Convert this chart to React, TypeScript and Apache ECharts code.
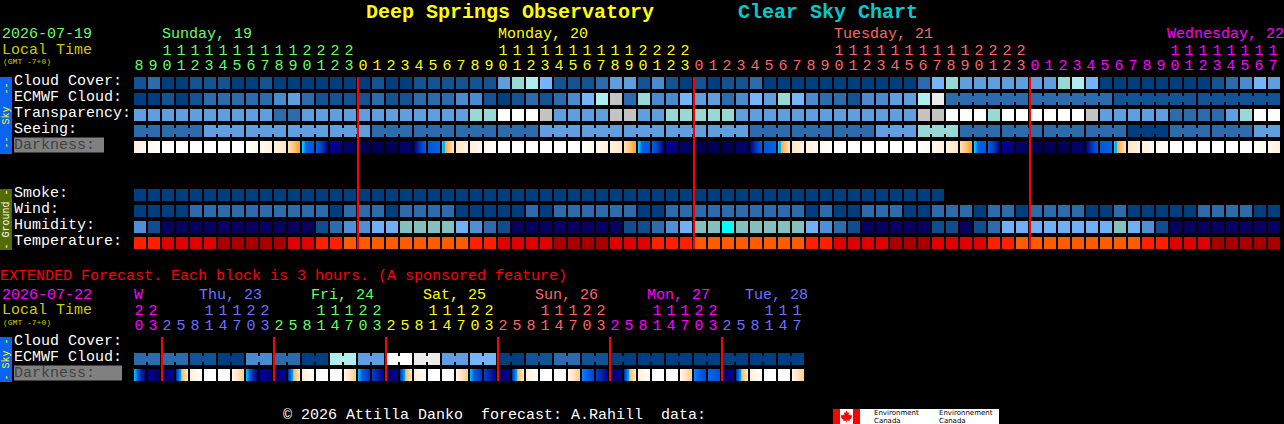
import React, { useEffect, useRef } from "react";
import * as echarts from "echarts";

const MONO = '"Liberation Mono", "DejaVu Sans Mono", monospace';

// Cloud-style scale, darkest (clear) to white (overcast)
const cloudPalette = ["#003f7f", "#135393", "#2c6cac", "#4a8ace", "#5f9fe0", "#76b5fa", "#99d9d5", "#aeeeee", "#ebebeb", "#c4c4c4", "#ffffff"];
const humidityPalette = ["#08005f", "#0f4d8f", "#2c6cac", "#4f8fd5", "#72b0f5", "#84c0be", "#00ffff"];
const temperaturePalette = ["#a80000", "#e00000", "#ff2000", "#ff5c00"];

const darknessStops: Record<string, [number, string][]> = {
  w: [[0, "#ffffff"], [1, "#ffffff"]],
  rC: [[0, "#fff8f0"], [1, "#ffffff"]],
  rB: [[0, "#fff0dc"], [1, "#fff8f0"]],
  rA: [[0, "#ffe6c4"], [1, "#fff2e0"]],
  sC: [[0, "#ffffff"], [1, "#fff8f0"]],
  sB: [[0, "#fff8f0"], [1, "#fff0dc"]],
  sA: [[0, "#fff2e0"], [1, "#ffe6c4"]],
  s3: [[0, "#ffe4c0"], [1, "#ffa020"]],
  r3: [[0, "#00d8ff"], [0.2, "#00a0ff"], [0.25, "#ffa830"], [1, "#ffe4c0"]],
  s4: [[0, "#00d8ff"], [0.2, "#00a0ff"], [0.25, "#0064e4"], [1, "#0058d8"]],
  r4: [[0, "#0058d8"], [1, "#0064e4"]],
  s5: [[0, "#0060e0"], [0.45, "#0040c0"], [0.75, "#0020a0"], [1, "#000078"]],
  r5: [[0, "#000078"], [0.3, "#0020a0"], [0.6, "#0040c0"], [1, "#0060e0"]],
  n1: [[0, "#000090"], [1, "#000080"]],
  n2: [[0, "#000068"], [1, "#000068"]],
  n3: [[0, "#000050"], [1, "#000050"]],
  e1: [[0, "#00c8ff"], [0.3, "#0060e0"], [0.65, "#0020a0"], [1, "#000070"]],
  e2: [[0, "#00c0ff"], [0.35, "#0060e0"], [1, "#0030b8"]],
  e3: [[0, "#0088ff"], [0.4, "#0060e8"], [1, "#0048d0"]],
  m1: [[0, "#000090"], [1, "#000060"]],
  m2: [[0, "#0000a0"], [1, "#000078"]],
  m3: [[0, "#0040c8"], [1, "#000090"]],
  m4: [[0, "#0068f0"], [1, "#0050e0"]],
  d1: [[0, "#000060"], [1, "#000098"]],
  t: [[0, "#0030b0"], [0.4, "#00a8ff"], [0.48, "#ffb860"], [1, "#ffeec8"]],
  u: [[0, "#fff0d8"], [1, "#ffffff"]],
  v: [[0, "#fff8f0"], [1, "#ffcc88"]],
};

// Main chart: one block per hour
const mainHours = [8, 9, 10, 11, 12, 13, 14, 15, 16, 17, 18, 19, 20, 21, 22, 23,
  0, 1, 2, 3, 4, 5, 6, 7, 8, 9, 10, 11, 12, 13, 14, 15, 16, 17, 18, 19, 20, 21, 22, 23,
  0, 1, 2, 3, 4, 5, 6, 7, 8, 9, 10, 11, 12, 13, 14, 15, 16, 17, 18, 19, 20, 21, 22, 23,
  0, 1, 2, 3, 4, 5, 6, 7, 8, 9, 10, 11, 12, 13, 14, 15, 16, 17];
const mainDayColors = ["#66ff66", "#ffff00", "#ff6666", "#ff00ff"];
const mainDayNames = ["Sunday, 19", "Monday, 20", "Tuesday, 21", "Wednesday, 22"];
const mainRows = ["Cloud Cover:", "ECMWF Cloud:", "Transparency:", "Seeing:", "Darkness:", "", "", "Smoke:", "Wind:", "Humidity:", "Temperature:"];

const cloudCover = [1, 2, 0, 0, 1, 1, 1, 0, 0, 1, 0, 0, 0, 0, 0, 0, 0, 1, 0, 0, 1,
  1, 1, 1, 1, 1, 4, 6, 7, 5, 1, 1, 1, 2, 4, 4, 1, 3, 1, 0,
  1, 0, 1, 1, 2, 0, 0, 0, 0, 0, 0, 0,
  0, 0, 0, 0, 2, 5, 6, 4, 4, 4, 4, 4, 4, 4, 6, 7, 5,
  0, 0, 0, 0, 0, 0, 0, 0, 1, 2, 3, 5, 4];
const ecmwfCloud = [0, 0, 1, 0, 1, 2, 2, 2, 2, 2, 3, 4, 2, 1, 1, 1, 1, 2, 1, 1, 2,
  2, 2, 3, 3, 1, 0, 1, 2, 1, 2, 3, 5, 7, 9, 2, 6, 3, 3, 5, 4, 4, 2, 3, 5, 4, 6, 5, 3, 2, 2, 1,
  3, 3, 4, 4, 7, 8,
  2, 2, 2, 2, 2, 2, 2, 2, 2, 2, 2, 2, 1, 1, 1, 1, 1, 1, 1, 1, 1, 1, 1, 1];
const ecmwfGroups = [1, 1, 1, 1, 1, 1, 1, 1, 1, 1, 1, 1, 1, 1, 1, 1, 1, 1, 1, 1, 1, 1, 1, 1, 1, 1, 1, 1, 1,
  1, 1, 1, 1, 1, 1, 1, 1, 1, 1, 1, 1, 1, 1, 1, 1, 1, 1, 1, 1, 1, 1, 1, 1, 1, 1, 1, 1, 1, 6, 6, 6, 6];
const transparency = [4, 4, 4, 4, 4, 4, 4, 4, 4, 4, 2, 2, 4, 4, 4, 4, 4, 4, 4, 4, 4, 4, 4, 4,
  6, 6, 10, 10, 10, 9, 4, 4, 4, 4, 9, 9, 4, 4, 6, 6, 6, 6, 6,
  4, 4, 4, 4, 4, 4, 4, 4, 4, 4, 4, 4, 4, 9, 9, 10, 10, 10, 6,
  10, 10, 10, 10, 10, 10, 9, 4, 4, 4, 4, 4, 2, 2, 2, 2, 4, 6, 10, 10];
const seeing = [2, 2, 2, 2, 2, 4, 4, 4, 4, 4, 4, 4, 4, 4, 4, 4, 4,
  2, 2, 2, 2, 2, 2, 2, 2, 2, 2, 2, 2,
  4, 4, 4, 4, 4, 4, 4, 4, 4, 4, 4, 4, 4, 4, 4,
  2, 2, 2, 2, 2, 2, 2, 2, 2, 4, 4, 4, 6, 6, 6,
  2, 2, 2, 2, 2, 2, 2, 2, 2, 2, 2, 2, 0, 0, 0, 2, 2, 2, 2, 2, 2, 4, 4];
const seeingGroups = [2, 3, 3, 3, 3, 3, 3, 3, 3, 3, 3, 3, 3, 3, 3, 3, 3, 3, 3, 3, 3, 3, 3, 3, 3, 3, 3, 2];
const darkness = ["rB", "rC", "w", "w", "w", "w", "w", "w", "sC", "sB", "sA", "s3", "s4", "s5", "n1", "n2", "n3", "n3", "n3", "n2", "r5", "r4", "r3", "rA",
  "rB", "rC", "w", "w", "w", "w", "w", "w", "sC", "sB", "sA", "s3", "s4", "s5", "n1", "n2", "n3", "n3", "n3", "n2", "r5", "r4", "r3", "rA",
  "rB", "rC", "w", "w", "w", "w", "w", "w", "sC", "sB", "sA", "s3", "s4", "s5", "n1", "n2", "n3", "n3", "n3", "n2", "r5", "r4", "r3", "rA",
  "rB", "rC", "w", "w", "w", "w", "w", "w", "sC", "sB"];
const smoke = [0, 0, 0, 0, 0, 0, 0, 0, 0, 0, 0, 0, 0, 0, 0, 0, 0, 0, 0, 0, 0, 0, 0, 0, 0, 0, 0, 0, 0,
  0, 0, 0, 0, 0, 0, 0, 0, 0, 0, 0, 0, 0, 0, 0, 0, 0, 0, 0, 0, 0, 0, 0, 0, 0, 0, 0, 0, 0];
const wind = [0, 0, 0, 0, 2, 2, 2, 2, 2, 2, 2, 2, 2, 2, 0, 2, 2, 2, 0, 2, 2,
  2, 2, 0, 0, 0, 0, 0, 2, 0, 2, 2, 2, 2, 2, 2, 0, 0, 2, 2, 2, 2, 2, 2, 2, 2, 2, 2, 0, 2, 0, 0,
  2, 2, 2, 0, 0, 2, 2, 2, 0, 2, 2, 0, 2, 2, 2, 2, 0, 0, 2, 0, 0, 0, 0, 0, 2, 2, 2, 2, 0, 0];
const humidity = [3, 1, 0, 0, 0, 0, 0, 0, 0, 0, 0, 0, 0, 1, 2, 3, 3, 4, 4, 5, 5,
  5, 5, 4, 3, 2, 1, 0, 0, 0, 0, 0, 0, 0, 0, 1, 1, 2, 3, 4, 5, 5, 6, 5, 5, 5, 5, 5, 4, 3, 2, 1,
  0, 0, 0, 0, 0, 1, 1, 0, 1, 2, 4, 4, 4, 4, 4, 4, 4, 4, 5, 4, 3, 1, 0, 0, 0, 0, 0, 0, 0, 0];
const temperature = [2, 2, 1, 1, 1, 1, 0, 0, 0, 0, 0, 1, 1, 2, 2, 3, 3, 3, 3, 3, 3,
  3, 3, 3, 2, 2, 1, 1, 1, 1, 0, 0, 0, 0, 1, 1, 1, 2, 2, 2, 3, 3, 3, 3, 3, 3, 3, 3, 2, 2, 1, 1,
  1, 1, 0, 0, 0, 1, 1, 1, 1, 2, 2, 3, 3, 3, 3, 3, 3, 3, 3, 3, 2, 2, 1, 1, 1, 0, 0, 0, 0, 0];

// Extended chart: one block per 3 hours
const extHours = [20, 23,
  2, 5, 8, 11, 14, 17, 20, 23, 2, 5, 8, 11, 14, 17, 20, 23, 2, 5, 8, 11, 14, 17, 20, 23,
  2, 5, 8, 11, 14, 17, 20, 23, 2, 5, 8, 11, 14, 17, 20, 23, 2, 5, 8, 11, 14, 17];
const extDayColors = ["#ff00ff", "#7070ff", "#66ff66", "#ffff00", "#ff6666", "#ff00ff", "#7070ff"];
const extDayNames = ["W", "Thu, 23", "Fri, 24", "Sat, 25", "Sun, 26", "Mon, 27", "Tue, 28"];
const extRows = ["Cloud Cover:", "ECMWF Cloud:", "Darkness:"];
const extEcmwf = [2, 2, 2, 2, 1, 1, 0, 0, 3, 3, 2, 2, 0, 0, 7, 7, 4, 4, 10, 10, 8, 8, 4, 4,
  5, 5, 0, 0, 1, 1, 2, 2, 1, 1, 0, 0, 0, 0, 0, 0, 0, 0, 0, 0, 0, 0, 0, 0];
const extEcmwfGroups = [2, 2, 2, 2, 2, 2, 2, 2, 2, 2, 2, 2, 2, 2, 2, 2, 2, 2, 2, 2, 2, 2, 2, 2];
const extDarkness = ["e1", "m1", "d1", "t", "u", "w", "w", "v",
  "e1", "m2", "d1", "t", "u", "w", "w", "v",
  "e2", "m3", "d1", "t", "u", "w", "w", "v",
  "e2", "m3", "d1", "t", "u", "w", "w", "v",
  "e3", "m3", "d1", "t", "u", "w", "w", "v",
  "e3", "m4", "d1", "t", "u", "w", "w", "v"];

const BLOCK = 12;
const NECK_H = 6;

function dayColorAt(hours: number[], colors: string[], col: number) {
  let day = 0;
  for (let i = 1; i <= col; i++) if (hours[i] < hours[i - 1]) day++;
  return colors[day];
}

function joinsNext(groups: number[] | null) {
  const out: boolean[] = [];
  (groups || []).forEach((n) => {
    for (let k = 0; k < n; k++) out.push(k < n - 1);
  });
  return out;
}

function blockSeries(gridIndex: number, row: number, values: any[], fillOf: (v: any) => any, groups: number[] | null) {
  const joins = joinsNext(groups);
  return {
    type: "custom",
    coordinateSystem: "cartesian2d",
    xAxisIndex: gridIndex,
    yAxisIndex: gridIndex,
    silent: true,
    clip: false,
    data: values.map((_, i) => [i, row]),
    encode: { x: 0, y: 1 },
    renderItem(params: any, api: any) {
      const i = api.value(0);
      const c = api.coord([i, api.value(1)]);
      const fill = fillOf(values[params.dataIndex]);
      const left = c[0] - BLOCK / 2;
      const top = c[1] - BLOCK / 2;
      const children: any[] = [
        { type: "rect", shape: { x: left, y: top, width: BLOCK, height: BLOCK }, style: { fill } },
      ];
      if (joins[params.dataIndex]) {
        children.push({
          type: "rect",
          shape: { x: left + BLOCK - 0.5, y: c[1] - NECK_H / 2, width: 3, height: NECK_H },
          style: { fill },
        });
      }
      return { type: "group", children };
    },
  };
}

function dayLineSeries(gridIndex: number, hours: number[], lastRow: number) {
  const cols = hours.map((h, i) => (i > 0 && h < hours[i - 1] ? i : -1)).filter((i) => i >= 0);
  return {
    type: "custom",
    coordinateSystem: "cartesian2d",
    xAxisIndex: gridIndex,
    yAxisIndex: gridIndex,
    silent: true,
    clip: false,
    z: 5,
    data: cols.map((c) => [c, 0]),
    encode: { x: 0, y: 1 },
    renderItem(_: any, api: any) {
      const a = api.coord([api.value(0), 0]);
      const b = api.coord([api.value(0), lastRow]);
      const s = api.size([1, 1]);
      return {
        type: "rect",
        shape: { x: a[0] - s[0] / 2, y: a[1] - BLOCK / 2, width: 2, height: b[1] - a[1] + BLOCK },
        style: { fill: "#ff0000" },
      };
    },
  };
}

const cloudFill = (v: number) => cloudPalette[v];
const humidityFill = (v: number) => humidityPalette[v];
const tempFill = (v: number) => temperaturePalette[v];
const darkFill = (code: string) =>
  new echarts.graphic.LinearGradient(0, 0, 1, 0, darknessStops[code].map(([offset, color]) => ({ offset, color })));

function xAxisFor(gridIndex: number, hours: number[], colors: string[]) {
  return {
    type: "category",
    gridIndex,
    position: "top",
    data: hours.map(String),
    axisLine: { show: false },
    axisTick: { show: false },
    splitLine: { show: false },
    axisLabel: {
      interval: 0,
      margin: 1,
      padding: [0, 2, 0, 0],
      fontFamily: MONO,
      fontSize: 15,
      lineHeight: 15,
      hideOverlap: false,
      formatter: (v: string) => (v.length > 1 ? `${v[0]}\n${v[1]}` : v),
      color: (_: any, i: number) => dayColorAt(hours, colors, i),
    },
  };
}

function yAxisFor(gridIndex: number, rows: string[], margin: number, darkWidth: number) {
  return {
    type: "category",
    gridIndex,
    inverse: true,
    data: rows,
    axisLine: { show: false },
    axisTick: { show: false },
    splitLine: { show: false },
    axisLabel: {
      interval: 0,
      margin,
      align: "left",
      color: "#ffffff",
      fontFamily: MONO,
      fontSize: 15,
      padding: [0, 0, 4, 0],
      formatter: (v: string) => (v === "Darkness:" ? `{d|${v}}` : v),
      rich: {
        d: {
          color: "#404040",
          backgroundColor: "#808080",
          fontFamily: MONO,
          fontSize: 15,
          width: darkWidth,
          height: 15,
          lineHeight: 15,
        },
      },
    },
  };
}

function label(text: string, x: number, y: number, fill: string, size = 15, weight = "normal", align = "left") {
  return {
    type: "text",
    x,
    y,
    silent: true,
    style: { text, fill, font: `${weight} ${size}px ${MONO}`, align, verticalAlign: "middle" },
  };
}

function logoText(text: string, x: number, y: number) {
  return {
    type: "text",
    x,
    y,
    silent: true,
    style: { text, fill: "#000000", font: '7px "DejaVu Sans"', verticalAlign: "middle" },
  };
}

function sideBar(x: number, y: number, h: number, color: string, text: string, textColor: string) {
  return [
    { type: "rect", shape: { x, y, width: 12, height: h }, style: { fill: color }, silent: true },
    {
      type: "text",
      x: x + 6,
      y: y + h / 2,
      rotation: Math.PI / 2,
      silent: true,
      style: { text, fill: textColor, font: `10px ${MONO}`, align: "center", verticalAlign: "middle" },
    },
  ];
}

const leafPoints = [
  [846.5, 410.5], [845.2, 413], [843.8, 412.2], [844.5, 415.5], [843, 414.2], [842.6, 415.4], [840.8, 415], [841.4, 417.2],
  [840.6, 417.6], [843.6, 420], [843.2, 421], [846.2, 420.6], [846.2, 422.6], [846.8, 422.6], [846.8, 420.6], [849.8, 421],
  [849.4, 420], [852.4, 417.6], [851.6, 417.2], [852.2, 415], [850.4, 415.4], [850, 414.2], [848.5, 415.5], [849.2, 412.2],
  [847.8, 413],
];

export default function App() {
  const ref = useRef<HTMLDivElement>(null);
  useEffect(() => {
    document.body.style.margin = "0";
    document.body.style.background = "#000";
    const chart = echarts.init(ref.current!, null, { renderer: "svg" });
    chart.setOption({
      animation: false,
      backgroundColor: "#000000",
      grid: [
        { left: 133, top: 75, width: 1148, height: 176, containLabel: false },
        { left: 133, top: 335, width: 672, height: 48, containLabel: false },
      ],
      xAxis: [xAxisFor(0, mainHours, mainDayColors), xAxisFor(1, extHours, extDayColors)],
      yAxis: [yAxisFor(0, mainRows, 119, 90), yAxisFor(1, extRows, 119, 108)],
      series: [
        blockSeries(0, 0, cloudCover, cloudFill, null),
        blockSeries(0, 1, ecmwfCloud, cloudFill, ecmwfGroups),
        blockSeries(0, 2, transparency, cloudFill, null),
        blockSeries(0, 3, seeing, cloudFill, seeingGroups),
        blockSeries(0, 4, darkness, darkFill, null),
        blockSeries(0, 7, smoke, cloudFill, null),
        blockSeries(0, 8, wind, cloudFill, null),
        blockSeries(0, 9, humidity, humidityFill, null),
        blockSeries(0, 10, temperature, tempFill, null),
        dayLineSeries(0, mainHours, 10),
        blockSeries(1, 1, extEcmwf, cloudFill, extEcmwfGroups),
        blockSeries(1, 2, extDarkness, darkFill, null),
        dayLineSeries(1, extHours, 2),
      ],
      graphic: [
        label("Deep Springs Observatory", 366, 12, "#ffff00", 20, "bold"),
        label("Clear Sky Chart", 738, 12, "#00cccc", 20, "bold"),
        label("2026-07-19", 2, 34, "#66ff66"),
        label("Local Time", 2, 50, "#cccc00"),
        label("(GMT -7+0)", 3, 61, "#cccc00", 8),
        label(mainDayNames[0], 162, 34, mainDayColors[0]),
        label(mainDayNames[1], 498, 34, mainDayColors[1]),
        label(mainDayNames[2], 834, 34, mainDayColors[2]),
        label(mainDayNames[3], 1167, 34, mainDayColors[3]),
        ...sideBar(0, 77, 77, "#0a64f0", "--  Sky  --", "#ffff00"),
        ...sideBar(0, 189, 61, "#556b00", "- Ground -", "#ffffff"),
        label("EXTENDED Forecast. Each block is 3 hours. (A sponsored feature)", 0, 276, "#ff0000"),
        label("2026-07-22", 2, 295, "#ff00ff"),
        label("Local Time", 2, 310, "#cccc00"),
        label("(GMT -7+0)", 3, 322, "#cccc00", 8),
        label(extDayNames[0], 134, 295, extDayColors[0]),
        label(extDayNames[1], 199, 295, extDayColors[1]),
        label(extDayNames[2], 311, 295, extDayColors[2]),
        label(extDayNames[3], 423, 295, extDayColors[3]),
        label(extDayNames[4], 535, 295, extDayColors[4]),
        label(extDayNames[5], 647, 295, extDayColors[5]),
        label(extDayNames[6], 745, 295, extDayColors[6]),
        ...sideBar(0, 337, 45, "#0a64f0", "- Sky -", "#ffff00"),
        label("\u00a9 2026 Attilla Danko  forecast: A.Rahill  data:", 283, 415, "#ffffff"),
        { type: "rect", shape: { x: 833, y: 409, width: 166, height: 15 }, style: { fill: "#ffffff" }, silent: true },
        { type: "rect", shape: { x: 833, y: 409, width: 7, height: 15 }, style: { fill: "#ff0000" }, silent: true },
        { type: "rect", shape: { x: 853, y: 409, width: 7, height: 15 }, style: { fill: "#ff0000" }, silent: true },
        { type: "polygon", shape: { points: leafPoints }, style: { fill: "#ff0000" }, silent: true },
        logoText("Environment", 874, 412.5),
        logoText("Canada", 874, 420.5),
        logoText("Environnement", 939, 412.5),
        logoText("Canada", 939, 420.5),
      ],
    });
    return () => chart.dispose();
  }, []);
  return <div ref={ref} style={{ position: "fixed", left: 0, top: 0, width: 1284, height: 424, background: "#000" }} />;
}
